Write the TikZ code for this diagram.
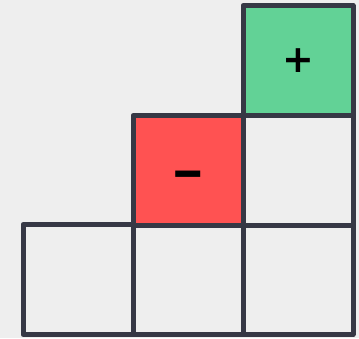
\documentclass[tikz,border=0pt]{standalone}
\usepackage{fontspec}
\setmainfont{DejaVu Sans}
\definecolor{bgc}{HTML}{EEEEEE}
\definecolor{edgec}{HTML}{363845}
\definecolor{greenc}{HTML}{62D296}
\definecolor{redc}{HTML}{FF5252}
\tikzset{
  cell/.style={draw=edgec, line width=5pt, line join=round, minimum width=110pt, minimum height=110pt, inner sep=0pt, outer sep=0pt},
  sign/.style={font=\bfseries\fontsize{38}{38}\selectfont, text=black, inner sep=0pt}
}
\begin{document}
\begin{tikzpicture}[x=1pt,y=1pt]
\fill[bgc] (0,0) rectangle (359,338);
\useasboundingbox (0,0) rectangle (359,338);
% bottom row
\node[cell, fill=bgc] (b1) at (78,58.5) {};
\node[cell, fill=bgc] (b2) at (188,58.5) {};
\node[cell, fill=bgc] (b3) at (298,58.5) {};
% middle row
\node[cell, fill=redc] (m2) at (188,167.5) {};
\node[cell, fill=bgc] (m3) at (298,167.5) {};
% top row
\node[cell, fill=greenc] (t3) at (298,277.5) {};
\node[sign, anchor=center] (minus) at ([yshift=-11pt]m2.center) {\scalebox{1.05}[1.45]{−}};
\node[sign] (plus) at (t3) {+};
\end{tikzpicture}
\end{document}
